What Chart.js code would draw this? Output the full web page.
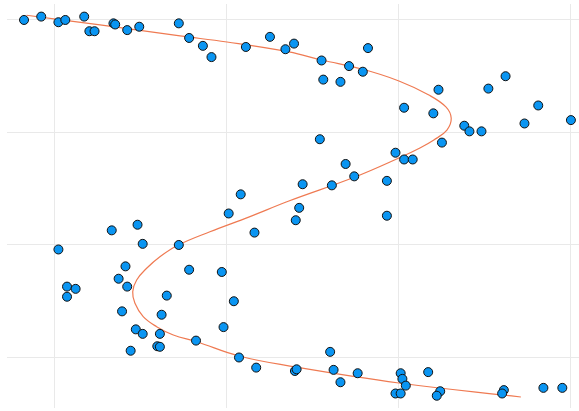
<!DOCTYPE html>
<html>
<head>
<meta charset="utf-8">
<script src="https://cdn.jsdelivr.net/npm/chart.js@4"></script>
<style>
html,body{margin:0;padding:0;background:#fff;}
#wrap{width:579px;height:411px;}
</style>
</head>
<body>
<div id="wrap"><canvas id="c"></canvas></div>
<script>
const pointX = [-0.18,-0.08,0.02,0.06,0.17,0.20,0.23,0.34,0.35,0.42,0.49,0.72,0.78,0.86,0.91,1.11,1.25,1.34,1.39,1.55,1.82,1.71,1.79,1.56,1.66,2.23,2.52,2.62,2.03,2.20,2.81,2.73,3.00,2.38,2.41,2.48,1.54,2.25,1.98,2.03,2.08,1.69,1.44,1.61,1.74,1.93,1.42,1.40,1.93,1.08,1.01,1.16,0.33,0.48,0.51,0.72,0.02,0.41,0.78,0.97,0.07,0.12,0.07,0.37,0.42,0.65,1.04,0.39,0.62,0.47,0.51,0.61,0.98,0.82,0.595,0.61,0.44,1.07,1.17,1.395,1.405,1.60,1.62,1.66,1.76,2.01,2.02,2.04,1.98,2.01,2.17,2.24,2.22,2.61,2.60,2.84,2.95];
const pointY = [3.00,3.03,2.98,3.00,3.03,2.90,2.90,2.97,2.96,2.91,2.94,2.97,2.84,2.77,2.67,2.76,2.85,2.74,2.79,2.64,2.75,2.59,2.54,2.47,2.45,2.38,2.39,2.50,2.22,2.17,2.24,2.08,2.11,2.06,2.01,2.01,1.94,1.91,1.82,1.76,1.76,1.72,1.54,1.53,1.61,1.57,1.33,1.22,1.26,1.45,1.28,1.11,1.13,1.18,1.01,1.00,0.96,0.81,0.78,0.76,0.63,0.61,0.54,0.70,0.63,0.55,0.50,0.41,0.38,0.25,0.21,0.21,0.27,0.15,0.10,0.095,0.06,0.00,-0.09,-0.12,-0.105,0.05,-0.11,-0.22,-0.14,-0.14,-0.19,-0.25,-0.32,-0.32,-0.13,-0.30,-0.34,-0.29,-0.32,-0.27,-0.27];
const curveX = [-0.165,0.262,0.727,1.000,1.360,1.552,1.785,2.000,2.174,2.273,2.304,2.279,2.203,2.122,2.000,1.744,1.360,1.130,0.901,0.717,0.610,0.533,0.475,0.452,0.465,0.513,0.591,0.688,0.824,1.070,1.366,2.000,2.709];
const curveY = [3.042,2.956,2.858,2.804,2.716,2.644,2.564,2.458,2.333,2.227,2.126,2.022,1.933,1.862,1.773,1.604,1.391,1.250,1.118,1.000,0.896,0.793,0.689,0.585,0.482,0.363,0.274,0.200,0.140,0.013,-0.076,-0.227,-0.351];
const gridX = [0,1,2,3];
const gridY = [0,1,2,3];

const pts = pointX.map((x,i)=>({x:x,y:pointY[i]}));
const curve = curveX.map((x,i)=>({x:x,y:curveY[i]}));

new Chart(document.getElementById('c'), {
  type: 'scatter',
  data: {
    datasets: [
      {
        type: 'line',
        data: curve,
        borderColor: '#ef7a52',
        borderWidth: 1.2,
        pointRadius: 0,
        tension: 0.4,
        fill: false,
        order: 2
      },
      {
        data: pts,
        backgroundColor: '#0a95f2',
        borderColor: '#111111',
        borderWidth: 1,
        pointRadius: 4.5,
        order: 1
      }
    ]
  },
  options: {
    responsive: true,
    maintainAspectRatio: false,
    animation: false,
    layout: { autoPadding: false, padding: { left: 7, top: 4, right: 0, bottom: 3 } },
    plugins: { legend: { display: false }, tooltip: { enabled: false } },
    scales: {
      x: {
        type: 'linear',
        min: -0.279, max: 3.047,
        afterBuildTicks: s => { s.ticks = gridX.map(v => ({value: v})); },
        ticks: { display: false, padding: 0 },
        grid: { color: '#e9e9e9', lineWidth: 1, drawTicks: false, tickLength: 0 },
        border: { display: false }
      },
      y: {
        type: 'linear',
        min: -0.449, max: 3.142,
        afterBuildTicks: s => { s.ticks = gridY.map(v => ({value: v})); },
        ticks: { display: false, padding: 0 },
        grid: { color: '#e9e9e9', lineWidth: 1, drawTicks: false, tickLength: 0 },
        border: { display: false }
      }
    }
  }
});
</script>
</body>
</html>
